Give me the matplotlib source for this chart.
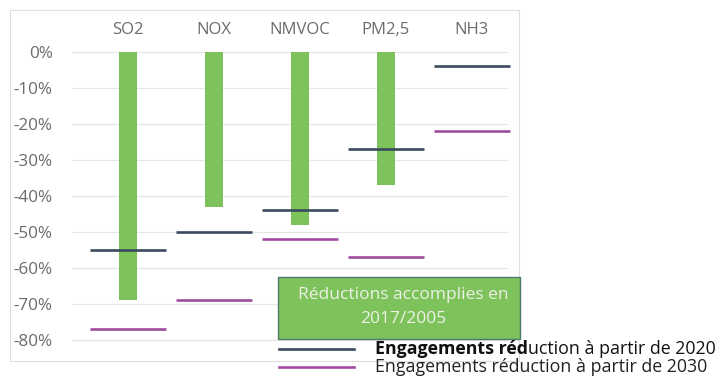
import matplotlib.pyplot as plt
from matplotlib.patches import Rectangle

# ---------------- Data ----------------
polluants = ["SO2", "NOX", "NMVOC", "PM2,5", "NH3"]
reductions_2017 = [-69, -43, -48, -37, 0]
engagements_2020 = [-55, -50, -44, -27, -4]
engagements_2030 = [-77, -69, -52, -57, -22]
yticks = [0, -10, -20, -30, -40, -50, -60, -70, -80]

GREEN = "#7dc25a"
NAVY = "#3a4a5f"
PURPLE = "#a04c9f"
GRAY = "#6b6b6b"

plt.rcParams["font.family"] = ["Open Sans", "DejaVu Sans"]

fig = plt.figure(figsize=(7.2, 3.8), dpi=100)
W, H = 720, 380

# outer chart frame
fig.patches.append(Rectangle((10 / W, 1 - 361 / H), 509 / W, 351 / H,
                             transform=fig.transFigure, fill=False,
                             edgecolor="#dedede", linewidth=0.8))

ax = fig.add_axes([72 / W, 1 - 350 / H, 436 / W, 310 / H])
x = list(range(len(polluants)))

ax.bar(x, reductions_2017, width=0.22, color=GREEN, zorder=2)
ax.hlines(engagements_2020, [i - 0.44 for i in x], [i + 0.44 for i in x],
          color=NAVY, linewidth=1.9, zorder=3, clip_on=False)
ax.hlines(engagements_2030, [i - 0.44 for i in x], [i + 0.44 for i in x],
          color=PURPLE, linewidth=1.9, zorder=3, clip_on=False)

# category 0 sits at ~128 px, spacing ~86 px
ax.set_xlim((72 - 128) / 86, (508 - 128) / 86)
ax.set_ylim(-82.8, 3.33)
ax.set_yticks(yticks)
ax.set_yticklabels([f"{v}%" for v in yticks], fontsize=12.3, color=GRAY)
ax.yaxis.grid(True, color="#e6e6e6", linewidth=0.9, zorder=0)
ax.tick_params(axis="y", length=0, pad=14)

ax.xaxis.tick_top()
ax.set_xticks(x)
ax.set_xticklabels(polluants, fontsize=12, color=GRAY)
ax.tick_params(axis="x", length=0, pad=1.5)

for s in ax.spines.values():
    s.set_visible(False)

# legend box for the bars
fig.patches.append(Rectangle((278 / W, 1 - 339 / H), 242 / W, 62 / H,
                             transform=fig.transFigure, facecolor=GREEN,
                             edgecolor="#4f7a70", linewidth=1.0))
fig.text(403 / W, 1 - 307 / H, "Réductions accomplies en\n2017/2005",
         ha="center", va="center", fontsize=12.5, color="#eef1e8",
         linespacing=1.65)

# line legend
for yy, col in [(349, NAVY), (367, PURPLE)]:
    fig.add_artist(plt.Line2D([279 / W, 354 / W], [1 - yy / H, 1 - yy / H],
                              transform=fig.transFigure, color=col,
                              linewidth=1.9))
t1 = fig.text(375 / W, 1 - 349 / H, "Engagements réd", ha="left",
              va="center", fontsize=12.8, fontweight="bold", color="#111111")
fig.canvas.draw()
bb = t1.get_window_extent()
fig.text(bb.x1 / W, 1 - 349 / H, "uction à partir de 2020", ha="left",
         va="center", fontsize=12.8, color="#111111")
fig.text(375 / W, 1 - 367 / H, "Engagements réduction à partir de 2030",
         ha="left", va="center", fontsize=12.8, color="#222222")

fig.savefig("out.png", dpi=100)
